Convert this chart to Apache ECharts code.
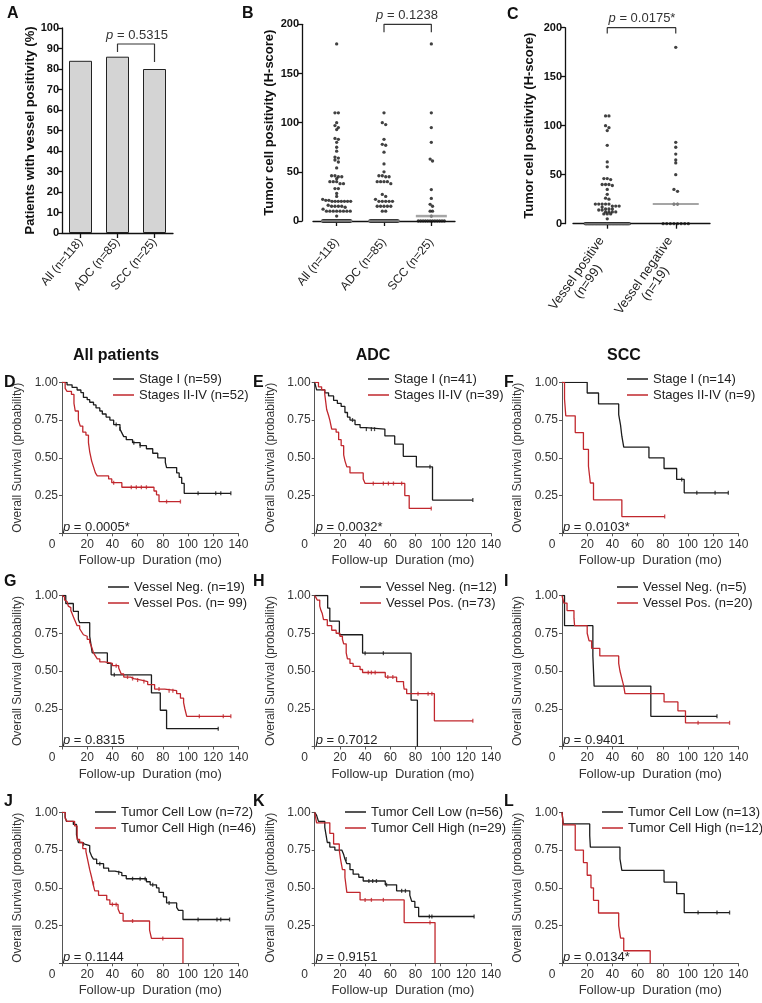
<!DOCTYPE html>
<html><head><meta charset="utf-8">
<script src="https://cdn.jsdelivr.net/npm/echarts@6/dist/echarts.min.js"></script>
<style>html,body{margin:0;padding:0;background:#fff}#main{width:762px;height:1003px}</style>
</head><body><div id="main"></div>
<script>
// ---------------- DATA ----------------
const catsA = ['All (n=118)', 'ADC (n=85)', 'SCC (n=25)'];
const valsA = [84, 86, 80];
const pA = '0.5315';

const catsB = ['All (n=118)', 'ADC (n=85)', 'SCC (n=25)'];
const bAll = [180,110,110,100,97,95,93,84,83,80,75,71,65,64,62,60,54,46,46,45,45,43,40,40,40,38,38,33,33,28,25,22,21,21,20,20,20,20,20,20,20,16,15,15,15,15,14,12,10,10,10,10,10,10,10,10,5,
  0,0,0,0,0,0,0,0,0,0,0,0,0,0,0,0,0,0,0,0,0,0,0,0,0,0,0,0,0,0,0,0,0,0,0,0,0,0,0,0,0,0,0,0,0,0,0,0,0,0,0,0,0,0,0,0,0,0,0,0,0];
const bAdc = [110,100,98,83,78,77,70,58,50,46,46,45,45,40,40,40,40,38,27,25,22,20,20,20,20,20,15,15,15,15,15,10,10,
  0,0,0,0,0,0,0,0,0,0,0,0,0,0,0,0,0,0,0,0,0,0,0,0,0,0,0,0,0,0,0,0,0,0,0,0,0,0,0,0,0,0,0,0,0,0,0,0,0,0,0,0];
const bScc = [180,110,95,80,63,61,32,23,17,15,10,10,5,0,0,0,0,0,0,0,0,0,0,0,0];
const pB = '0.1238';

const catsC = ['Vessel positive\n(n=99)', 'Vessel negative\n(n=19)'];
const cPos = [110,110,100,98,95,80,63,58,46,46,45,40,40,40,39,35,30,26,25,20,20,20,20,20,18,18,18,17,15,15,15,14,14,12,12,12,12,10,10,10,5,
  0,0,0,0,0,0,0,0,0,0,0,0,0,0,0,0,0,0,0,0,0,0,0,0,0,0,0,0,0,0,0,0,0,0,0,0,0,0,0,0,0,0,0,0,0,0,0,0,0,0,0,0,0,0,0,0,0,0];
const cNeg = [180,83,78,71,65,62,50,35,33,20,20,0,0,0,0,0,0,0,0];
const pC = '0.0175*';

// Kaplan-Meier curves: [time (mo), survival]
const kmD1 = [[0,1],[4,0.983],[8,0.966],[12,0.949],[15,0.932],[17,0.9],[20,0.885],[22,0.868],[25,0.85],[27,0.83],[30,0.81],[32,0.79],[35,0.77],[38,0.75],[41,0.72],[46,0.69],[47.5,0.665],[49,0.64],[51,0.62],[56,0.6],[62,0.58],[67,0.56],[72,0.53],[76,0.5],[82,0.47],[83,0.435],[91,0.4],[93,0.37],[95,0.33],[97,0.265],[134,0.265]];
const kmD2 = [[0,1],[2.5,0.96],[4,0.94],[7.5,0.92],[9.5,0.86],[10.5,0.81],[13,0.75],[14.5,0.71],[16.5,0.67],[19,0.65],[21,0.6],[22,0.54],[23.5,0.48],[25,0.44],[26.5,0.4],[28,0.38],[37,0.36],[39.5,0.335],[47.5,0.305],[73,0.28],[75,0.255],[77,0.21],[94,0.21]];
const cenD1 = [43,46,57,62,108,122,126,134];
const cenD2 = [41,55,59,63,67,83,94];

const kmE1 = [[0,1],[1.5,0.95],[8,0.93],[11,0.91],[15,0.88],[18,0.86],[21,0.84],[24,0.8],[26,0.77],[28,0.75],[32,0.72],[36,0.7],[40.5,0.69],[55.7,0.645],[63.5,0.59],[70.3,0.51],[80.7,0.44],[93.5,0.22],[125.5,0.22]];
const kmE2 = [[0,1],[3,0.97],[5.5,0.95],[8,0.92],[9.5,0.82],[11,0.78],[12,0.75],[13.5,0.69],[17,0.67],[19,0.62],[21,0.58],[23,0.52],[24,0.48],[25.5,0.44],[28,0.4],[38.5,0.36],[40,0.33],[71.5,0.25],[75,0.165],[92.5,0.165]];
const cenE1 = [30,41,45,47.5,91.5,125.5];
const cenE2 = [46.5,54.5,58.5,62.5,69,92.5];

const kmF1 = [[0,1],[20,0.929],[29,0.857],[45,0.786],[46.5,0.714],[47.5,0.643],[49,0.571],[69,0.5],[81,0.429],[91,0.357],[97,0.268],[132,0.268]];
const kmF2 = [[0,1],[2,0.889],[3,0.778],[10.5,0.667],[17,0.556],[21,0.444],[22.5,0.333],[25,0.222],[47.5,0.111],[81.5,0.111]];
const cenF1 = [95,107,121.5,132];
const cenF2 = [81.5];

const kmG1 = [[0,1],[3,0.947],[9,0.895],[13,0.842],[14,0.82],[22,0.73],[23,0.675],[24,0.62],[36,0.55],[39,0.475],[71,0.355],[78,0.24],[83,0.118],[124,0.118]];
const kmG2 = [[0,1],[1,0.99],[2,0.97],[3,0.96],[4,0.95],[5,0.93],[6,0.92],[7,0.9],[8,0.88],[9,0.86],[10,0.84],[11,0.82],[12,0.8],[14,0.78],[15.5,0.76],[17,0.74],[18,0.73],[20,0.71],[22,0.69],[23.5,0.66],[25,0.62],[26.5,0.6],[28,0.58],[30,0.56],[34,0.55],[40,0.535],[45,0.52],[46,0.5],[47,0.48],[49,0.46],[54.5,0.45],[57,0.44],[63,0.43],[68,0.41],[73.5,0.38],[81.5,0.37],[91,0.35],[94,0.32],[96.5,0.29],[97.5,0.25],[99,0.2],[134,0.2]];
const cenG1 = [41.5,124];
const cenG2 = [43,52,56,60,65,77,85,88,109,128,134];

const kmH1 = [[0,1],[10.3,0.917],[12,0.83],[19.6,0.74],[38,0.618],[76.5,0.307],[81.5,0]];
const kmH2 = [[0,1],[1,0.986],[2,0.97],[4,0.93],[5,0.9],[6,0.88],[7,0.84],[10,0.8],[13.5,0.77],[17,0.75],[20,0.73],[22,0.71],[23,0.68],[25,0.62],[26,0.58],[28,0.55],[30.5,0.53],[36,0.51],[38,0.49],[56,0.46],[65,0.43],[70.5,0.41],[71,0.38],[73,0.35],[95,0.17],[125.5,0.17]];
const cenH1 = [40,54.5];
const cenH2 = [42.5,45,48,58,62,82,90,93,125.5];

const kmI1 = [[0,1],[2,0.8],[24.5,0.6],[25.5,0.4],[70.5,0.2],[123,0.2]];
const kmI2 = [[0,1],[1.5,0.95],[4,0.9],[9.5,0.85],[10,0.8],[20,0.75],[21.5,0.7],[23.5,0.65],[30,0.6],[45,0.55],[46,0.5],[47.5,0.45],[49,0.4],[50,0.35],[81,0.295],[92,0.236],[98,0.157],[133,0.157]];
const cenI1 = [123];
const cenI2 = [108,133];

const kmJ1 = [[0,1],[2.5,0.97],[3.5,0.94],[9,0.92],[11.5,0.85],[13,0.8],[15.5,0.79],[18,0.78],[22,0.74],[23.5,0.71],[25,0.69],[27.5,0.66],[33,0.63],[37,0.61],[42,0.6],[47.5,0.58],[51,0.56],[67,0.54],[70,0.52],[75,0.5],[77,0.47],[80.5,0.44],[83,0.4],[91,0.37],[92.5,0.35],[96,0.29],[133,0.29]];
const kmJ2 = [[0,1],[2.5,0.96],[4,0.94],[10,0.91],[12,0.82],[14,0.8],[16.5,0.76],[19,0.74],[20,0.7],[21,0.66],[22,0.62],[23.5,0.57],[24.5,0.53],[26,0.48],[29,0.45],[35.5,0.42],[38,0.39],[44.5,0.36],[46,0.33],[48.5,0.28],[69.5,0.22],[71,0.165],[96,0]];
const cenJ1 = [17,30,45,56,62,66,72,85,108,123,126,133];
const cenJ2 = [25,40,43,56,80];

const kmK1 = [[0,1],[1.5,0.98],[3,0.94],[8,0.9],[9,0.85],[10,0.8],[12,0.77],[16,0.75],[21.5,0.74],[23,0.72],[24,0.69],[25.5,0.66],[28,0.62],[30.5,0.59],[35,0.57],[38.5,0.545],[56,0.52],[65,0.48],[75.5,0.45],[77,0.41],[79.5,0.37],[82.5,0.31],[126.5,0.31]];
const kmK2 = [[0,1],[1.5,0.93],[12,0.86],[15,0.79],[19.5,0.75],[20.5,0.69],[22,0.62],[24,0.57],[25.5,0.47],[36,0.42],[71,0.27],[95.5,0]];
const cenK1 = [25,43,46,49,57,69,72,91,93,126.5];
const cenK2 = [40,45,54.5,91.5];

const kmL1 = [[0,1],[1,0.923],[22,0.846],[22.5,0.769],[46,0.692],[47.5,0.615],[81,0.538],[91,0.461],[97,0.336],[133,0.336]];
const kmL2 = [[0,1],[1,0.917],[10.5,0.75],[17,0.667],[20,0.583],[23,0.5],[25,0.417],[29,0.333],[45,0.25],[46.5,0.167],[49,0.083],[70,0]];
const cenL1 = [108,123,133];
const cenL2 = [];

const kmNames = [
  ['Stage I (n=59)','Stages II-IV (n=52)'],
  ['Stage I (n=41)','Stages II-IV (n=39)'],
  ['Stage I (n=14)','Stages II-IV (n=9)'],
  ['Vessel Neg. (n=19)','Vessel Pos. (n= 99)'],
  ['Vessel Neg. (n=12)','Vessel Pos. (n=73)'],
  ['Vessel Neg. (n=5)','Vessel Pos. (n=20)'],
  ['Tumor Cell Low (n=72)','Tumor Cell High (n=46)'],
  ['Tumor Cell Low (n=56)','Tumor Cell High (n=29)'],
  ['Tumor Cell Low (n=13)','Tumor Cell High (n=12)']
];
const kmP = ['0.0005*','0.0032*','0.0103*','0.8315','0.7012','0.9401','0.1144','0.9151','0.0134*'];
const kmLetters = ['D','E','F','G','H','I','J','K','L'];
const kmCurves = [[kmD1,kmD2],[kmE1,kmE2],[kmF1,kmF2],[kmG1,kmG2],[kmH1,kmH2],[kmI1,kmI2],[kmJ1,kmJ2],[kmK1,kmK2],[kmL1,kmL2]];
const kmCens = [[cenD1,cenD2],[cenE1,cenE2],[cenF1,cenF2],[cenG1,cenG2],[cenH1,cenH2],[cenI1,cenI2],[cenJ1,cenJ2],[cenK1,cenK2],[cenL1,cenL2]];
const colHeaders = ['All patients','ADC','SCC'];

// ---------------- LAYOUT / STYLE ----------------
const BLACK = '#1c1c1c', RED = '#c1272d', AX = '#555';
const FONT = '"Liberation Sans", Arial, Helvetica, sans-serif';
const NARROW = '"Liberation Sans Narrow", "Arial Narrow", "Liberation Sans", sans-serif';
const colX = [62, 314.7, 562];
const rowY = [382.3, 595.5, 812.3];
const kmW = 176.4, kmH = 151;
const legLeft = [113, 368, 627, 108, 360, 617, 95, 345, 602];
const legTopRow = [372.5, 580.5, 805.5];

function median(a){const s=[...a].sort((x,y)=>x-y);const n=s.length;return n%2?s[(n-1)/2]:(s[n/2-1]+s[n/2])/2;}
function swarm(vals, cat, spacing, maxW, bin){
  const s=[...vals].sort((a,b)=>b-a); const out=[]; let i=0;
  while(i<s.length){
    let j=i; while(j<s.length && s[i]-s[j] < bin) j++;
    const k=j-i; const sp = k>1 ? Math.min(spacing, maxW/(k-1)) : 0;
    for(let m=0;m<k;m++) out.push({value:[cat, s[i+m]], symbolOffset:[(m-(k-1)/2)*sp, 0]});
    i=j;
  }
  return out;
}
function survAt(curve, t){let s=curve[0][1];for(const [tt,ss] of curve){if(tt<=t) s=ss; else break;}return s;}

const grids=[], xAxes=[], yAxes=[], series=[], legends=[], graphics=[];
const dotAxisLine = {show:true, lineStyle:{color:'#111', width:1.3}};
const dotTick = {show:true, length:4, lineStyle:{color:'#111', width:1.3}};
const dotYLabel = {fontFamily:NARROW, fontWeight:'bold', fontSize:11, color:'#111', margin:3};
const dotName = {fontFamily:FONT, fontWeight:'bold', fontSize:13, color:'#111'};
const catLabel = {fontFamily:FONT, fontSize:12, color:'#222', interval:0};

// Panel A
grids.push({left:62, top:28, width:111, height:205, outerBoundsMode:'none'});
xAxes.push({gridIndex:0, type:'category', data:catsA, axisLine:dotAxisLine, axisTick:{...dotTick, alignWithLabel:true, length:5}, axisLabel:{...catLabel, rotate:50, margin:7}});
yAxes.push({gridIndex:0, type:'value', min:0, max:100, interval:10, axisLine:dotAxisLine, axisTick:dotTick, axisLabel:dotYLabel, splitLine:{show:false},
  name:'Patients with vessel positivity (%)', nameLocation:'middle', nameGap:18, nameTextStyle:dotName});
series.push({type:'bar', xAxisIndex:0, yAxisIndex:0, data:valsA, barWidth:23, itemStyle:{color:'#d4d4d4', borderColor:'#222', borderWidth:1}});
series.push({type:'line', xAxisIndex:0, yAxisIndex:0, data:[[1,88.3],[1,92.2],[2,92.2],[2,83.4]], symbol:'none', clip:false, lineStyle:{color:'#333', width:1.2}});

// Panel B
grids.push({left:313, top:24.3, width:142, height:196.7, outerBoundsMode:'none'});
xAxes.push({gridIndex:1, type:'category', data:catsB, offset:12, axisLine:dotAxisLine, axisTick:{...dotTick, alignWithLabel:true, length:5}, axisLabel:{...catLabel, rotate:50, margin:7}});
yAxes.push({gridIndex:1, type:'value', min:0, max:200, interval:50, offset:11, axisLine:dotAxisLine, axisTick:dotTick, axisLabel:dotYLabel, splitLine:{show:false},
  name:'Tumor cell positivity (H-score)', nameLocation:'middle', nameGap:26, nameTextStyle:dotName});
series.push({type:'scatter', xAxisIndex:1, yAxisIndex:1, symbolSize:3.3, itemStyle:{color:'#111'},
  data:[...swarm(bAll,0,3.4,28,3), ...swarm(bAdc,1,3.4,28,3), ...swarm(bScc,2,2.4,26,3)]});
series.push({type:'scatter', xAxisIndex:1, yAxisIndex:1, symbol:'rect', symbolSize:[31,2.5], z:5, itemStyle:{color:'#8f8f8f'},
  data:[[0,median(bAll)],[1,median(bAdc)],[2,median(bScc)]]});
series.push({type:'line', xAxisIndex:1, yAxisIndex:1, data:[[1,192],[1,200],[2,200],[2,192]], symbol:'none', clip:false, lineStyle:{color:'#333', width:1.2}});

// Panel C
grids.push({left:573, top:27.7, width:137, height:196, outerBoundsMode:'none'});
xAxes.push({gridIndex:2, type:'category', data:catsC, offset:9.6, axisLine:dotAxisLine, axisTick:{...dotTick, alignWithLabel:true, length:5},
  axisLabel:{...catLabel, fontSize:13, rotate:55, margin:9, formatter:v=>v.split('\n').map(s=>'{a|'+s+'}').join('\n'),
    rich:{a:{align:'center', fontFamily:FONT, fontSize:13, color:'#222', lineHeight:14}}}});
yAxes.push({gridIndex:2, type:'value', min:0, max:200, interval:50, offset:8, axisLine:dotAxisLine, axisTick:dotTick, axisLabel:dotYLabel, splitLine:{show:false},
  name:'Tumor cell positivity (H-score)', nameLocation:'middle', nameGap:29, nameTextStyle:dotName});
series.push({type:'scatter', xAxisIndex:2, yAxisIndex:2, symbolSize:3.3, itemStyle:{color:'#111'},
  data:[...swarm(cPos,0,3.4,44,3), ...swarm(cNeg,1,3.6,28,3)]});
series.push({type:'scatter', xAxisIndex:2, yAxisIndex:2, symbol:'rect', symbolSize:[46,2], z:5, itemStyle:{color:'#8f8f8f'},
  data:[[0,median(cPos)],[1,median(cNeg)]]});
series.push({type:'line', xAxisIndex:2, yAxisIndex:2, data:[[0,194],[0,200],[1,200],[1,194]], symbol:'none', clip:false, lineStyle:{color:'#333', width:1.2}});

// KM panels
for(let k=0;k<9;k++){
  const c=k%3, r=Math.floor(k/3), gi=3+k;
  grids.push({left:colX[c], top:rowY[r], width:kmW, height:kmH, outerBoundsMode:'none'});
  xAxes.push({gridIndex:gi, type:'value', min:0, max:140, interval:20,
    axisLine:{show:true, onZero:false, lineStyle:{color:AX, width:1}}, axisTick:{show:true, length:3, lineStyle:{color:AX}},
    axisLabel:{fontFamily:FONT, fontSize:12, color:'#333', margin:5, showMinLabel:true, showMaxLabel:true,
      formatter:v=> v===0 ? '{z|0}' : String(v), rich:{z:{padding:[0,20,0,0], fontFamily:FONT, fontSize:12, color:'#333'}}},
    splitLine:{show:false}, name:'Follow-up  Duration (mo)', nameLocation:'middle', nameGap:21,
    nameTextStyle:{fontFamily:FONT, fontSize:13, color:'#333'}});
  yAxes.push({gridIndex:gi, type:'value', min:0, max:1, interval:0.25,
    axisLine:{show:true, lineStyle:{color:AX, width:1}}, axisTick:{show:true, length:3, lineStyle:{color:AX}},
    axisLabel:{fontFamily:FONT, fontSize:12, color:'#333', margin:4, formatter:v=> v===0 ? '' : v.toFixed(2)},
    splitLine:{show:false}, name:'Overall Survival (probability)', nameLocation:'middle', nameGap:38,
    nameTextStyle:{fontFamily:FONT, fontSize:12, color:'#333'}});
  const cols=[BLACK, RED];
  for(let s=0;s<2;s++){
    const curve=kmCurves[k][s];
    series.push({type:'line', name:kmNames[k][s], xAxisIndex:gi, yAxisIndex:gi, data:curve, step:'end', symbol:'none', showSymbol:false,
      lineStyle:{color:cols[s], width:1.3}, itemStyle:{color:cols[s]}, z:3+s});
    series.push({type:'scatter', xAxisIndex:gi, yAxisIndex:gi, symbol:'rect', symbolSize:[1.3,4], itemStyle:{color:cols[s]}, z:3+s,
      data:kmCens[k][s].map(t=>[t, survAt(curve,t)])});
  }
  legends.push({left:legLeft[k], top:legTopRow[r], orient:'vertical', data:kmNames[k], icon:'rect', itemWidth:21, itemHeight:1.5, itemGap:3, padding:0,
    selectedMode:false, textStyle:{fontFamily:FONT, fontSize:13, color:'#222', lineHeight:13}});
  graphics.push({type:'text', x:colX[c]+1, y:rowY[r]+kmH-6, style:{text:'{i|p} = '+kmP[k], fontFamily:FONT, fontSize:13, fill:'#222', align:'left', verticalAlign:'middle',
    rich:{i:{fontStyle:'italic', fontFamily:FONT, fontSize:13, fill:'#222'}}}});
  graphics.push({type:'text', x:[4,253,504][c], y:[375,574,794][r], style:{text:kmLetters[k], fontFamily:FONT, fontWeight:'bold', fontSize:16, fill:'#111', align:'left', verticalAlign:'top'}});
}
// Letters A-C, headers, p-values for dot plots
graphics.push({type:'text', x:7, y:6, style:{text:'A', fontFamily:FONT, fontWeight:'bold', fontSize:16, fill:'#111', verticalAlign:'top'}});
graphics.push({type:'text', x:242, y:6, style:{text:'B', fontFamily:FONT, fontWeight:'bold', fontSize:16, fill:'#111', verticalAlign:'top'}});
graphics.push({type:'text', x:507, y:7, style:{text:'C', fontFamily:FONT, fontWeight:'bold', fontSize:16, fill:'#111', verticalAlign:'top'}});
[[116,colHeaders[0]],[373,colHeaders[1]],[624,colHeaders[2]]].forEach(([x,t])=>graphics.push({type:'text', x:x, y:356,
  style:{text:t, fontFamily:FONT, fontWeight:'bold', fontSize:16, fill:'#111', align:'center', verticalAlign:'middle'}}));
[[137,35,pA],[407,15,pB],[642,18,pC]].forEach(([x,y,t])=>graphics.push({type:'text', x:x, y:y,
  style:{text:'{i|p} = '+t, fontFamily:FONT, fontSize:13, fill:'#333', align:'center', verticalAlign:'middle',
    rich:{i:{fontStyle:'italic', fontFamily:FONT, fontSize:13, fill:'#333'}}}}));

const chart = echarts.init(document.getElementById('main'), null, {renderer:'canvas', width:762, height:1003});
chart.setOption({animation:false, backgroundColor:'#fff', grid:grids, xAxis:xAxes, yAxis:yAxes, series:series, legend:legends, graphic:graphics});
</script></body></html>
